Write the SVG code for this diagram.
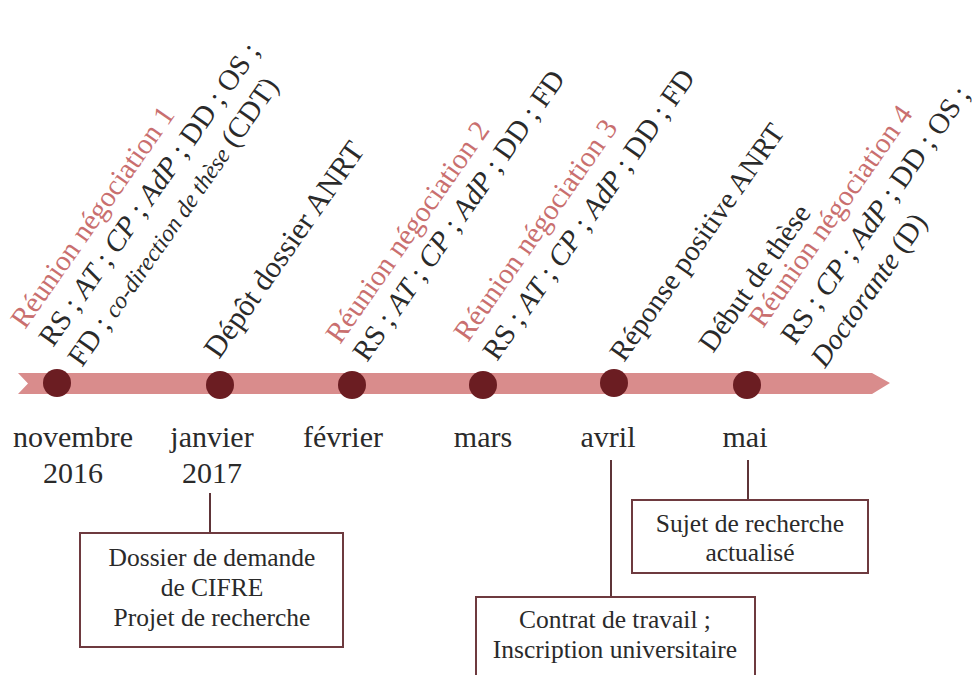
<svg xmlns="http://www.w3.org/2000/svg" width="972" height="675" viewBox="0 0 972 675">
<style>
  .t { font-family: "Liberation Serif", "DejaVu Serif", serif; fill: #2a2a2a; }
  .rot { font-size: 29px; }
  .red { fill: #c96f6f; }
  .month { font-size: 30px; text-anchor: middle; }
  .box { fill: #ffffff; stroke: #6e3a3f; stroke-width: 2; }
  .boxt { font-size: 25.5px; text-anchor: middle; }
  .dot { fill: #6b1d22; }
  .con { stroke: #5e3438; stroke-width: 2; fill: none; }
  .it { font-style: italic; }
  .sm { font-size: 24px; font-style: italic; }
</style>
<rect width="972" height="675" fill="#ffffff"/>

<g id="timeline">
  <path d="M18,373 L872,373 L890,383 L872,394 L18,394 L28,383.5 Z" fill="#d98c8c"/>
</g>

<g id="connectors">
  <line class="con" x1="210" y1="493" x2="210" y2="533"/>
  <line class="con" x1="611" y1="460" x2="611" y2="597"/>
  <line class="con" x1="748" y1="460" x2="748" y2="500"/>
</g>

<g id="nov2016">
  <circle class="dot" cx="57" cy="383" r="14"/>
  <text class="t month" x="73" y="447">novembre</text>
  <text class="t month" x="73" y="483">2016</text>
  <text class="t rot red" transform="translate(25,330) rotate(-55)">Réunion négociation 1</text>
  <text class="t rot" transform="translate(53,348) rotate(-55)">RS ; <tspan class="it">AT</tspan> ; <tspan class="it">CP</tspan> ; <tspan class="it">AdP</tspan> ; DD ; OS ;</text>
  <text class="t rot" transform="translate(82,368) rotate(-55)">FD ; <tspan class="sm">co-direction de thèse</tspan> (CDT)</text>
</g>

<g id="jan2017">
  <circle class="dot" cx="220" cy="385" r="14"/>
  <text class="t month" x="212" y="447">janvier</text>
  <text class="t month" x="212" y="483">2017</text>
  <text class="t rot" style="font-size:30.5px" transform="translate(219,360) rotate(-55)">Dépôt dossier ANRT</text>
</g>

<g id="fev">
  <circle class="dot" cx="352" cy="385" r="14"/>
  <text class="t month" x="343" y="447">février</text>
  <text class="t rot red" transform="translate(340,345) rotate(-55)">Réunion négociation 2</text>
  <text class="t rot" transform="translate(367,363) rotate(-55)">RS ; <tspan class="it">AT</tspan> ; <tspan class="it">CP</tspan> ; <tspan class="it">AdP</tspan> ; DD ; FD</text>
</g>

<g id="mars">
  <circle class="dot" cx="483" cy="385" r="14"/>
  <text class="t month" x="483" y="447">mars</text>
  <text class="t rot red" transform="translate(468,343) rotate(-55)">Réunion négociation 3</text>
  <text class="t rot" transform="translate(497,362) rotate(-55)">RS ; <tspan class="it">AT</tspan> ; <tspan class="it">CP</tspan> ; <tspan class="it">AdP</tspan> ; DD ; FD</text>
</g>

<g id="avril">
  <circle class="dot" cx="614" cy="383" r="14"/>
  <text class="t month" x="608" y="447">avril</text>
  <text class="t rot" transform="translate(624,363) rotate(-55)">Réponse positive ANRT</text>
</g>

<g id="mai">
  <circle class="dot" cx="747" cy="385" r="14"/>
  <text class="t month" x="745" y="447">mai</text>
  <text class="t rot" transform="translate(713,354) rotate(-55)">Début de thèse</text>
  <text class="t rot red" transform="translate(763,329) rotate(-55)">Réunion négociation 4</text>
  <text class="t rot" transform="translate(795,346) rotate(-55)">RS ; <tspan class="it">CP</tspan> ; <tspan class="it">AdP</tspan> ; DD ; OS ;</text>
  <text class="t rot" transform="translate(825,369) rotate(-55)"><tspan class="it">Doctorante</tspan> (D)</text>
</g>

<g id="box-cifre">
  <rect class="box" x="80" y="533" width="263" height="114"/>
  <text class="t boxt" x="212" y="566">Dossier de demande</text>
  <text class="t boxt" x="212" y="596">de CIFRE</text>
  <text class="t boxt" x="212" y="626">Projet de recherche</text>
</g>

<g id="box-sujet">
  <rect class="box" x="632" y="500" width="236" height="73"/>
  <text class="t boxt" x="750" y="532">Sujet de recherche</text>
  <text class="t boxt" x="750" y="561">actualisé</text>
</g>

<g id="box-contrat">
  <rect class="box" x="476" y="597" width="279" height="90"/>
  <text class="t boxt" x="615" y="628">Contrat de travail ;</text>
  <text class="t boxt" x="615" y="658">Inscription universitaire</text>
</g>
</svg>
